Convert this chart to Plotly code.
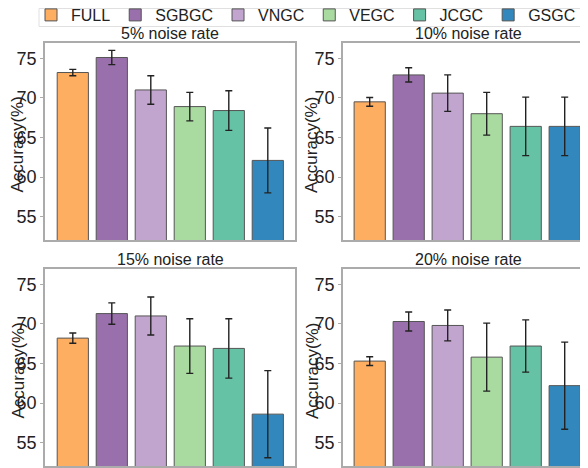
import plotly.graph_objects as go

# The page body has an 8px margin, so the figure is drawn 8px smaller and
# all page-pixel positions below are shifted by OFF.
OFF = 8
W, H = 588 - OFF, 468 - OFF

categories = ["FULL", "SGBGC", "VNGC", "VEGC", "JCGC", "GSGC"]
colors = ["#FDAE61", "#9970AB", "#C2A5CF", "#A9DBA0", "#66C2A5", "#3288BD"]

panel_titles = ["5% noise rate", "10% noise rate", "15% noise rate", "20% noise rate"]

acc_5 = [73.2, 75.1, 71.0, 68.9, 68.4, 62.1]
err_5 = [0.4, 0.9, 1.8, 1.8, 2.5, 4.1]
acc_10 = [69.5, 72.9, 70.6, 68.0, 66.4, 66.4]
err_10 = [0.55, 0.9, 2.3, 2.7, 3.7, 3.7]
acc_15 = [68.2, 71.3, 71.0, 67.2, 66.9, 58.6]
err_15 = [0.65, 1.35, 2.4, 3.45, 3.75, 5.5]
acc_20 = [65.3, 70.3, 69.8, 65.8, 67.2, 62.2]
err_20 = [0.55, 1.2, 1.95, 4.3, 3.3, 5.5]

y_ticks = [55, 60, 65, 70, 75]

panels = [(acc_5, err_5), (acc_10, err_10), (acc_15, err_15), (acc_20, err_20)]

FONT = "Liberation Sans, Arial, sans-serif"
FRAME = "#ABABAB"
TEXT = "#222222"

# geometry in page pixels
px_per_cat = 39.0
left_x = (45, 295)
right_x = (343, 593)
top_y = (43, 240)
bot_y = (269, 466)


def px(xp):
    return (xp - OFF) / W


def py(yp):
    return 1 - (yp - OFF) / H


fig = go.Figure()
for p, (vals, errs) in enumerate(panels):
    suffix = "" if p == 0 else str(p + 1)
    for i, cat in enumerate(categories):
        fig.add_trace(go.Bar(
            x=[cat], y=[vals[i]],
            error_y=dict(type="data", array=[errs[i]], color=TEXT,
                         thickness=1.4, width=3.5),
            marker=dict(color=colors[i], line=dict(color="#555555", width=1)),
            width=0.8, name=cat, legendgroup=cat,
            showlegend=(p == 0),
            xaxis="x" + suffix, yaxis="y" + suffix,
        ))

layout = dict(
    width=W, height=H,
    margin=dict(l=0, r=0, t=0, b=0, autoexpand=False),
    paper_bgcolor="white", plot_bgcolor="white",
    barmode="overlay",
    font=dict(family=FONT, color=TEXT),
    legend=dict(orientation="h", x=px(31), y=py(-2), xanchor="left", yanchor="top",
                borderwidth=0, font=dict(size=16, color=TEXT),
                itemwidth=30, bgcolor="rgba(0,0,0,0)"),
    annotations=[],
    shapes=[dict(type="rect", xref="paper", yref="paper",
                 x0=px(39), x1=px(585), y0=py(26.5), y1=py(8.5),
                 line=dict(color="#E0E0E0", width=1), fillcolor="rgba(0,0,0,0)",
                 layer="below")],
)

for p in range(4):
    suffix = "" if p == 0 else str(p + 1)
    is_left = p % 2 == 0
    xs = left_x if is_left else right_x
    ys = top_y if p < 2 else bot_y
    x_end = min(xs[1], 588)
    pad = (27.8 if is_left else 26.7) / px_per_cat
    layout["xaxis" + suffix] = dict(
        domain=[px(xs[0]), px(x_end)], anchor="y" + suffix,
        type="category", categoryorder="array", categoryarray=categories,
        range=[-pad, -pad + (x_end - xs[0]) / px_per_cat],
        showticklabels=False, ticks="", showgrid=False, zeroline=False,
        showline=True, linecolor=FRAME, linewidth=1.5, mirror=True,
    )
    layout["yaxis" + suffix] = dict(
        domain=[py(ys[1]), py(ys[0])], anchor="x" + suffix,
        range=[52.05, 76.93], tickvals=y_ticks,
        ticks="outside", ticklen=3, tickcolor=FRAME, tickwidth=1,
        tickfont=dict(size=18, color=TEXT),
        showgrid=False, zeroline=False,
        showline=True, linecolor=FRAME, linewidth=1.5, mirror=is_left,
    )
    # panel title
    xc = (xs[0] + xs[1]) / 2
    ty = 33.5 if p < 2 else 259.5
    layout["annotations"].append(dict(
        text=panel_titles[p], x=px(xc), y=py(ty), xref="paper", yref="paper",
        xanchor="center", yanchor="middle", showarrow=False,
        font=dict(size=16, color=TEXT)))
    # y axis title
    yc = 145 if p < 2 else 371
    xt = 17.5 if is_left else 312
    layout["annotations"].append(dict(
        text="Accuracy(%)", x=px(xt), y=py(yc), xref="paper", yref="paper",
        xanchor="center", yanchor="middle", showarrow=False, textangle=-90,
        font=dict(size=17, color=TEXT)))

fig.update_layout(**layout)
fig.write_html("out.html")
